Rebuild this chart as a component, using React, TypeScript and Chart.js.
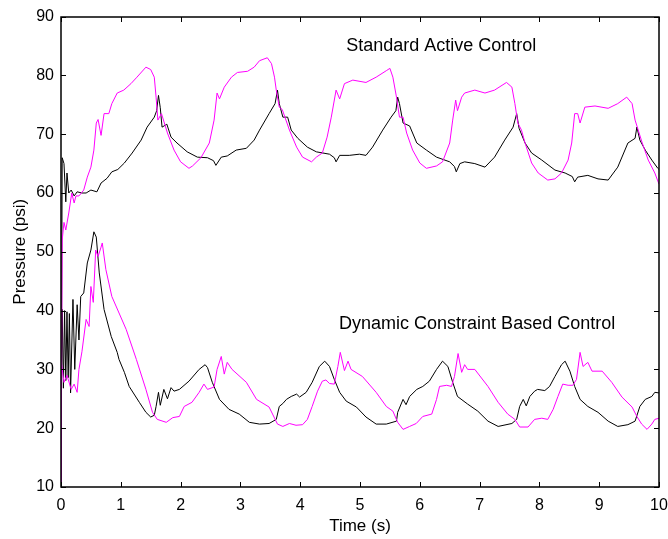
import React, { useEffect, useRef } from "react";
import { Chart, registerables } from "chart.js";

Chart.register(...registerables);

const FONT = "'Liberation Sans', Arial, Helvetica, sans-serif";

const xRange = [0, 10];
const yRange = [10, 90];
const xStep = 1;
const yStep = 10;
const xTitle = "Time (s)";
const yTitle = "Pressure (psi)";
const labelTop = "Standard Active Control";
const labelBottom = "Dynamic Constraint Based Control";
const labelTopAt = [4.77, 84.2];
const labelBottomAt = [4.65, 36.8];

// [time (s), pressure (psi)]
const standardBlack: [number, number][] = [
  [0, 10], [0.02, 66], [0.05, 65], [0.08, 58.5], [0.1, 63.4], [0.13, 60], [0.17, 60.5], [0.22, 59.5],
  [0.27, 60.2], [0.35, 60], [0.42, 60], [0.5, 60.5], [0.6, 60.2], [0.67, 61.7], [0.77, 62.5], [0.85, 63.6],
  [0.95, 64], [1.06, 65.1], [1.19, 66.8], [1.34, 69], [1.44, 71.2], [1.56, 72.9], [1.6, 74], [1.63, 76.6],
  [1.66, 74.5], [1.69, 71.2], [1.77, 71.7], [1.84, 69.5], [1.94, 68.5], [2.11, 67], [2.28, 66.1], [2.45, 66],
  [2.55, 65.5], [2.59, 64.7], [2.68, 66.1], [2.78, 66.3], [2.93, 67.3], [3.1, 67.6], [3.23, 69], [3.32, 70.7],
  [3.48, 73.5], [3.58, 75.2], [3.62, 77.5], [3.65, 75.2], [3.71, 72.9], [3.79, 72.9], [3.85, 70.7], [3.96, 69.3],
  [4.12, 67.8], [4.27, 67], [4.49, 66.6], [4.57, 66], [4.6, 65.3], [4.66, 66.4], [4.82, 66.4], [4.99, 66.6],
  [5.1, 66.4], [5.21, 67.8], [5.38, 70.7], [5.52, 72.9], [5.6, 74], [5.63, 76.3], [5.66, 75.2], [5.72, 71.9],
  [5.83, 71.4], [5.95, 68.5], [6.11, 67.3], [6.28, 66.1], [6.5, 65.3], [6.58, 64.5], [6.61, 63.6], [6.67, 65],
  [6.75, 65.3], [6.92, 65], [7.09, 64.4], [7.25, 66.1], [7.42, 69], [7.56, 71.2], [7.62, 73.5], [7.66, 71],
  [7.76, 68.5], [7.87, 66.8], [8.04, 65.6], [8.26, 63.9], [8.43, 63.4], [8.55, 62.8], [8.59, 61.9], [8.64, 62.7],
  [8.81, 63], [8.98, 62.4], [9.15, 62.2], [9.31, 64.4], [9.48, 68.5], [9.6, 69.3], [9.63, 71.2], [9.68, 69],
  [9.77, 67.3], [9.88, 65.6], [9.98, 64.2], [10, 64],
];

const standardMagenta: [number, number][] = [
  [0, 10], [0.02, 52], [0.05, 55], [0.08, 53.7], [0.13, 56.6], [0.18, 60], [0.22, 58.3], [0.25, 59.5],
  [0.3, 59.5], [0.38, 60.5], [0.44, 62.7], [0.5, 64.4], [0.55, 67.3], [0.59, 71.9], [0.62, 72.5], [0.67, 69.8],
  [0.72, 73.5], [0.8, 73.5], [0.85, 75.2], [0.94, 77], [1.05, 77.5], [1.17, 78.6], [1.27, 79.7], [1.42, 81.4],
  [1.5, 81], [1.56, 79.7], [1.59, 76.3], [1.62, 72.4], [1.68, 73.5], [1.78, 70.2], [1.89, 67.3], [2.0, 65.3],
  [2.14, 64.2], [2.2, 64.6], [2.34, 66], [2.48, 68.5], [2.56, 72.4], [2.61, 77], [2.65, 76], [2.73, 78],
  [2.85, 79.7], [2.95, 80.5], [3.12, 80.7], [3.23, 81.4], [3.32, 82.5], [3.45, 83], [3.52, 82], [3.57, 79.7],
  [3.6, 77.5], [3.65, 74.6], [3.7, 74.2], [3.82, 70.7], [3.94, 67.8], [4.04, 66.1], [4.19, 65.3], [4.27, 66.1],
  [4.37, 66.8], [4.45, 69.5], [4.52, 72.9], [4.6, 77.5], [4.66, 76], [4.74, 78.6], [4.88, 79.2], [5.1, 78.8],
  [5.27, 79.7], [5.44, 80.8], [5.5, 81.2], [5.55, 79.7], [5.61, 76.3], [5.66, 72.9], [5.72, 72.9], [5.78, 70.2],
  [5.88, 67.3], [6.0, 65.1], [6.11, 64.2], [6.28, 64.6], [6.38, 65.3], [6.5, 68.5], [6.55, 72.4], [6.6, 75.8],
  [6.63, 74], [6.7, 76.3], [6.75, 77], [6.92, 77.5], [7.09, 77], [7.25, 77.5], [7.45, 78.8], [7.54, 78],
  [7.59, 75.2], [7.64, 71.9], [7.7, 70.7], [7.76, 68.5], [7.87, 65.1], [7.98, 63.4], [8.14, 62.2], [8.26, 62.4],
  [8.37, 63.4], [8.48, 65.6], [8.54, 68.5], [8.59, 73.5], [8.64, 73.5], [8.68, 71.9], [8.76, 74.6], [8.93, 74.8],
  [9.15, 74.4], [9.31, 75.2], [9.46, 76.3], [9.55, 75.2], [9.6, 72.4], [9.72, 68.5], [9.82, 65.6], [9.93, 63.4],
  [10, 61.5],
];

const dynamicBlack: [number, number][] = [
  [0, 10], [0.005, 25], [0.02, 40.2], [0.04, 26.8], [0.06, 40], [0.08, 28.1], [0.1, 39.8], [0.12, 28.6],
  [0.14, 39.5], [0.16, 26], [0.2, 41.9], [0.23, 30], [0.27, 41], [0.3, 35], [0.33, 42.4], [0.38, 43],
  [0.44, 48.1], [0.5, 50.3], [0.55, 53.4], [0.59, 52.5], [0.64, 46.4], [0.72, 40.2], [0.84, 35.6], [0.94, 32.9],
  [0.97, 31.7], [1.06, 29.5], [1.14, 27.1], [1.31, 24.4], [1.42, 22.7], [1.5, 21.9], [1.56, 22.2], [1.59, 23.7],
  [1.63, 26.1], [1.66, 23.9], [1.72, 26.6], [1.78, 25], [1.84, 26.9], [1.89, 26.3], [1.98, 26.6], [2.14, 28],
  [2.31, 30], [2.41, 30.8], [2.45, 30.3], [2.53, 27.8], [2.65, 24.9], [2.81, 23.2], [2.98, 22.4], [3.15, 21],
  [3.32, 20.7], [3.48, 20.8], [3.6, 21.5], [3.65, 23.7], [3.71, 24.2], [3.77, 24.9], [3.85, 25.4], [3.94, 25.8],
  [3.99, 25.3], [4.1, 26.1], [4.2, 27.8], [4.32, 30.5], [4.41, 31.4], [4.49, 30.5], [4.57, 28.3], [4.66, 26.1],
  [4.77, 24.6], [4.94, 23.6], [5.1, 21.9], [5.27, 20.7], [5.44, 20.7], [5.61, 21.2], [5.63, 22.7], [5.72, 24.9],
  [5.77, 24], [5.83, 25.4], [5.95, 26.6], [6.05, 27.1], [6.16, 28], [6.28, 30], [6.38, 31.4], [6.47, 30.5],
  [6.55, 27.8], [6.63, 25.4], [6.8, 24.1], [6.97, 22.9], [7.14, 21.2], [7.31, 20.3], [7.54, 20.8], [7.62, 21.5],
  [7.67, 23.7], [7.73, 24.9], [7.78, 23.8], [7.84, 25.4], [7.92, 26.3], [7.97, 26.6], [8.09, 26.4], [8.17, 27.1],
  [8.26, 28.8], [8.37, 30.8], [8.43, 31.4], [8.51, 29.7], [8.59, 27.1], [8.68, 24.9], [8.81, 23.7], [8.98, 22.7],
  [9.15, 21.2], [9.31, 20.3], [9.48, 20.6], [9.6, 21.2], [9.68, 23.7], [9.77, 24.9], [9.88, 25.4], [9.93, 26.1],
  [10, 26],
];

const dynamicMagenta: [number, number][] = [
  [0, 10], [0.005, 31.2], [0.05, 27.8], [0.1, 29], [0.17, 26.6], [0.22, 27.5], [0.27, 26.1], [0.3, 30],
  [0.35, 33], [0.42, 38.5], [0.47, 37.3], [0.5, 44.1], [0.54, 41.4], [0.58, 50.3], [0.62, 49.2], [0.67, 50.8],
  [0.69, 51.5], [0.75, 47], [0.85, 42.4], [1.09, 36.8], [1.26, 31.7], [1.42, 26.6], [1.53, 22.7], [1.61, 21.5],
  [1.76, 21], [1.87, 21.8], [1.98, 22], [2.06, 23.7], [2.19, 24.4], [2.31, 26.1], [2.39, 27.5], [2.45, 26.6],
  [2.56, 27], [2.61, 30], [2.68, 32.2], [2.73, 29.2], [2.78, 31.2], [2.86, 30], [3.1, 27.8], [3.27, 24.9],
  [3.48, 23.6], [3.62, 20.7], [3.71, 20.3], [3.82, 20.8], [3.93, 20.5], [4.04, 20.6], [4.12, 21.5], [4.2, 23.7],
  [4.29, 26.3], [4.37, 28], [4.43, 28.2], [4.49, 27.6], [4.57, 27.5], [4.63, 30.5], [4.67, 32.9], [4.74, 29.8],
  [4.8, 31.4], [4.85, 30], [5.04, 28.8], [5.27, 26.1], [5.44, 23.7], [5.55, 22.9], [5.63, 21], [5.72, 19.8],
  [5.83, 20.3], [5.94, 20.8], [6.05, 22], [6.2, 22.4], [6.28, 24.9], [6.33, 27.1], [6.45, 27.3], [6.53, 27.1],
  [6.58, 28.8], [6.64, 32.7], [6.7, 29.5], [6.75, 30.8], [6.8, 30], [6.92, 30], [7.14, 27.1], [7.31, 24.4],
  [7.47, 22.4], [7.59, 21.5], [7.67, 20.2], [7.81, 20.2], [7.92, 21.5], [8.04, 21.7], [8.14, 21.5], [8.23, 23.2],
  [8.31, 25.4], [8.39, 27.5], [8.48, 27.3], [8.56, 27.3], [8.62, 28.3], [8.68, 32.9], [8.73, 30.5], [8.81, 31.2],
  [8.88, 29.7], [9.05, 29.7], [9.21, 27.8], [9.38, 25.3], [9.55, 23.6], [9.63, 22], [9.71, 20.7], [9.8, 19.8],
  [9.88, 20.7], [9.93, 21.5], [10, 21.7],
];

const toPoints = (arr: [number, number][]) => arr.map(([x, y]) => ({ x, y }));

const matlabBox = {
  id: "matlabBox",
  afterDatasetsDraw(chart: any) {
    const { ctx, chartArea: a, scales } = chart;
    const L = Math.round(a.left), R = Math.round(a.right), T = Math.round(a.top), B = Math.round(a.bottom);
    ctx.save();
    ctx.strokeStyle = "#000";
    ctx.lineWidth = 1.5;
    ctx.strokeRect(L, T, R - L, B - T);
    ctx.lineWidth = 1;
    const tl = 5;
    for (let v = xRange[0]; v <= xRange[1]; v += xStep) {
      const px = Math.round(scales.x.getPixelForValue(v)) + 0.5;
      ctx.beginPath();
      ctx.moveTo(px, B); ctx.lineTo(px, B - tl);
      ctx.moveTo(px, T); ctx.lineTo(px, T + tl);
      ctx.stroke();
    }
    for (let v = yRange[0]; v <= yRange[1]; v += yStep) {
      const py = Math.round(scales.y.getPixelForValue(v)) + 0.5;
      ctx.beginPath();
      ctx.moveTo(L, py); ctx.lineTo(L + tl, py);
      ctx.moveTo(R, py); ctx.lineTo(R - tl, py);
      ctx.stroke();
    }
    ctx.fillStyle = "#000";
    ctx.font = `18px ${FONT}`;
    ctx.textAlign = "left";
    ctx.textBaseline = "alphabetic";
    ctx.fillText(labelTop, scales.x.getPixelForValue(labelTopAt[0]), scales.y.getPixelForValue(labelTopAt[1]));
    ctx.fillText(labelBottom, scales.x.getPixelForValue(labelBottomAt[0]), scales.y.getPixelForValue(labelBottomAt[1]));
    ctx.restore();
  },
};

export default function App() {
  const ref = useRef<HTMLCanvasElement | null>(null);
  useEffect(() => {
    if (!ref.current) return;
    const line = (data: [number, number][], color: string) => ({
      data: toPoints(data),
      borderColor: color,
      backgroundColor: color,
      borderWidth: 1,
      pointRadius: 0,
      tension: 0,
      fill: false,
    });
    const chart = new Chart(ref.current, {
      type: "line",
      data: {
        datasets: [
          line(standardMagenta, "#ff00ff"),
          line(dynamicMagenta, "#ff00ff"),
          line(standardBlack, "#000000"),
          line(dynamicBlack, "#000000"),
        ],
      },
      options: {
        responsive: false,
        animation: false,
        events: [],
        layout: { padding: { top: 15, right: 0, left: 0, bottom: 0 } },
        plugins: { legend: { display: false }, tooltip: { enabled: false } },
        scales: {
          x: {
            type: "linear",
            min: xRange[0],
            max: xRange[1],
            grid: { display: false, drawTicks: false },
            border: { display: false },
            ticks: { stepSize: xStep, color: "#000", font: { family: FONT, size: 16 }, padding: 9, maxRotation: 0 },
            title: { display: true, text: xTitle, color: "#000", font: { family: FONT, size: 17 }, padding: { top: 0, bottom: 2 } },
            afterFit: (s: any) => { s.height = 52; s.paddingRight = 9; },
          },
          y: {
            type: "linear",
            min: yRange[0],
            max: yRange[1],
            grid: { display: false, drawTicks: false },
            border: { display: false },
            ticks: { stepSize: yStep, color: "#000", font: { family: FONT, size: 16 }, padding: 7 },
            title: { display: true, text: yTitle, color: "#000", font: { family: FONT, size: 17 }, padding: { top: 10, bottom: 0 } },
            afterFit: (s: any) => { s.width = 61; },
          },
        },
      },
      plugins: [matlabBox],
    });
    return () => chart.destroy();
  }, []);
  return (
    <div style={{ position: "absolute", left: 0, top: 0, width: 668, height: 539, background: "#fff" }}>
      <canvas ref={ref} width={668} height={539} />
    </div>
  );
}
